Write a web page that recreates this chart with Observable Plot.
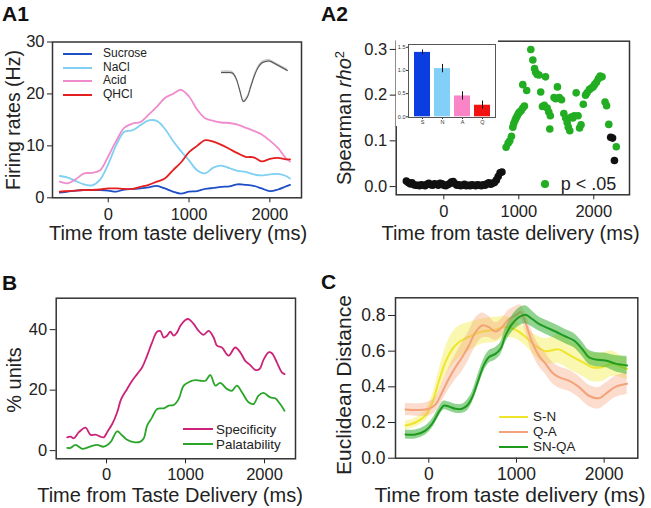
<!DOCTYPE html>
<html><head><meta charset="utf-8">
<script src="https://cdn.jsdelivr.net/npm/d3@7"></script>
<script src="https://cdn.jsdelivr.net/npm/@observablehq/plot@0.6"></script>
<style>
body{margin:0;background:#fff;}
#fig{position:relative;width:651px;height:508px;overflow:hidden;font-family:"Liberation Sans",Arial,sans-serif;color:#222;background:#fff}
#fig svg{display:block;overflow:visible}
.t{position:absolute;white-space:nowrap}
.leg{position:absolute;color:#222;white-space:nowrap}
.row{display:flex;align-items:center}
.sw{display:inline-block;height:0;border-top-style:solid}
</style></head><body><div id="fig"></div>
<script>
// ---------- Panel A1: firing rates ----------
const a1Time = [-600,-500,-400,-300,-200,-100,0,100,200,300,400,500,600,700,800,900,1000,1100,1200,1300,1400,1500,1600,1700,1800,1900,2000,2100,2200,2250];
const sucrose = [1.0,1.2,1.4,1.5,1.5,1.5,1.4,1.2,1.6,1.7,1.8,2.0,2.3,1.8,1.2,0.8,1.2,1.3,1.7,1.9,2.1,2.2,2.6,2.5,2.3,1.8,1.3,1.6,2.2,2.5];
const nacl = [4.2,3.9,3.2,2.6,2.4,3.5,6.5,10.2,12.7,13.0,14.0,14.9,14.8,13.3,11.0,9.0,7.2,5.3,4.7,5.8,6.2,5.7,5.2,5.0,4.5,4.3,4.5,4.6,4.2,3.7];
const acid = [3.1,2.8,3.6,4.7,4.8,5.3,8.0,11.0,13.5,14.3,14.6,16.0,17.5,19.2,20.0,20.8,19.5,17.0,15.3,14.8,14.5,14.4,14.1,13.5,12.9,12.2,11.0,9.6,7.6,7.0];
const qhcl = [1.2,1.3,1.4,1.5,1.5,1.6,1.8,1.8,1.7,1.7,2.1,2.5,3.1,3.7,5.3,6.8,8.8,10.0,11.1,10.8,10.2,9.4,8.6,7.9,7.8,7.0,7.5,7.7,7.4,7.4];
const tastes = ["Sucrose","NaCl","Acid","QHCl"];
const tasteColors = ["#1f4fc6","#7fd0f2","#f08ccc","#e41f1f"];
// spike waveform inset (samples, amplitude)
const waveSample = [0,1,2,3,4,5,6,7,8,9,10,11,12,13,14,15,16,17,18];
const waveAmp = [0,0,0,-0.5,-6,-18,-29,-25,-14,-3,5,9.5,11,11.5,10,8,6,4,2];
const waveSd = 1.6;

// ---------- Panel A2: Spearman rho^2 ----------
const nsTime = [-500,-475,-450,-425,-400,-375,-350,-325,-300,-275,-250,-225,-200,-175,-150,-125,-100,-75,-50,-25,0,25,50,75,100,125,150,175,200,225,250,275,300,325,350,375,400,425,450,475,500,525,550,575,600,625,650,675,700,725,750,775,2225,2250,2275];
const nsRho = [0.012,0.009,0.006,0.008,0.004,0.003,0.003,0.002,0.004,0.003,0.002,0.005,0.007,0.004,0.003,0.006,0.005,0.003,0.007,0.006,0.003,0.002,0.004,0.006,0.010,0.011,0.006,0.003,0.004,0.002,0.003,0.005,0.002,0.003,0.002,0.004,0.003,0.002,0.004,0.003,0.002,0.004,0.003,0.006,0.008,0.005,0.007,0.009,0.014,0.022,0.030,0.032,0.108,0.106,0.057];
const sigTime = [831,858,880,902,920,933,950,964,980,995,1010,1030,1053,1075,1053,1105,1160,1187,1210,1225,1245,1270,1292,1315,1340,1356,1378,1400,1420,1413,1470,1490,1515,1540,1570,1600,1625,1645,1660,1680,1700,1720,1740,1765,1790,1810,1830,1860,1890,1910,1940,1965,1990,2010,2035,2060,2085,2110,2150,2170,2200,2300];
const sigRho = [0.086,0.095,0.100,0.110,0.130,0.138,0.145,0.150,0.155,0.160,0.163,0.166,0.172,0.176,0.223,0.210,0.300,0.277,0.258,0.250,0.245,0.244,0.207,0.175,0.178,0.240,0.172,0.163,0.155,0.126,0.195,0.192,0.218,0.195,0.190,0.160,0.150,0.140,0.130,0.122,0.152,0.150,0.155,0.205,0.155,0.128,0.135,0.180,0.200,0.205,0.212,0.215,0.218,0.223,0.228,0.236,0.242,0.240,0.185,0.177,0.136,0.087];
// inset bar chart
const insetCats = ["S","N","A","Q"];
const insetVals = [1.39,1.04,0.45,0.25];
const insetErr = [0.05,0.09,0.09,0.09];
const insetColors = ["#0b3ee0","#82cff8","#f985c6","#f31212"];

// ---------- Panel B: % units ----------
const specTime = [-497,-455,-413,-350,-265,-202,-139,-76,-34,8,72,135,185,261,324,387,450,514,577,640,682,724,766,808,851,893,935,998,1040,1103,1166,1229,1293,1356,1398,1461,1545,1629,1693,1756,1819,1882,1937,1987,2051,2093,2156,2219,2253];
const specVal = [4.4,4.6,4.1,6.1,7.6,5.2,5.3,4.6,4.4,6.1,8.8,12.7,17.0,20.4,23.1,25.3,27.5,31.4,35.8,39.3,39.5,37.4,38.0,39.3,38.0,39.1,41.3,43.2,43.5,41.9,39.6,38.3,39.6,37.4,34.7,34.1,31.4,34.1,32.5,29.7,28.3,26.7,27.0,30.0,32.5,32.2,29.2,25.9,25.3];
const palTime = [-497,-455,-392,-307,-223,-118,-34,51,135,198,261,345,429,472,514,577,640,724,787,851,914,977,1061,1124,1187,1251,1314,1377,1440,1524,1587,1651,1714,1798,1861,1924,1987,2072,2135,2198,2253];
const palVal = [0.9,0.9,1.9,0.6,1.2,1.9,1.3,2.8,6.4,5.0,3.6,2.8,3.0,4.1,8.3,11.0,13.8,14.0,14.9,15.1,17.1,21.5,22.9,23.3,23.1,23.1,25.0,21.5,22.4,20.4,19.8,21.5,19.3,16.0,15.4,18.2,19.1,17.6,17.3,15.4,13.2];

// ---------- Panel C: Euclidean distance ----------
const snTime = [-266,-152,-38,38,114,190,266,342,456,608,760,875,989,1103,1217,1331,1483,1597,1749,1863,1977,2091,2205,2262];
const snMean = [.183,.20,.24,.31,.43,.54,.61,.65,.68,.71,.72,.735,.72,.68,.63,.60,.61,.58,.54,.51,.51,.53,.51,.50];
const snSem = [.025,.025,.03,.04,.06,.08,.09,.09,.08,.07,.07,.06,.05,.05,.06,.07,.08,.08,.08,.08,.08,.07,.06,.06];
const qaTime = [-266,-114,0,76,152,228,304,380,456,532,608,684,760,837,913,989,1046,1103,1179,1255,1331,1407,1483,1597,1711,1825,1939,2015,2129,2262];
const qaMean = [.273,.27,.277,.30,.37,.445,.51,.566,.63,.706,.744,.735,.71,.735,.78,.80,.82,.76,.65,.575,.53,.48,.454,.435,.40,.35,.336,.36,.40,.417];
const qaSem = [.035,.035,.04,.04,.05,.06,.07,.08,.08,.08,.07,.06,.05,.05,.05,.05,.04,.05,.06,.06,.06,.06,.06,.06,.06,.06,.06,.06,.06,.06];
const snqaTime = [-266,-152,-38,38,114,171,228,304,380,437,494,570,627,684,760,818,875,951,1027,1103,1179,1255,1331,1445,1559,1654,1749,1825,1901,2015,2129,2262];
const snqaMean = [.133,.133,.155,.193,.258,.295,.29,.277,.277,.295,.34,.445,.52,.566,.585,.613,.688,.753,.79,.804,.78,.753,.735,.71,.682,.66,.613,.566,.553,.548,.53,.52];
const snqaSem = [.025,.025,.025,.025,.025,.025,.025,.025,.025,.03,.03,.035,.035,.035,.035,.035,.04,.045,.05,.05,.045,.04,.04,.04,.04,.04,.04,.04,.04,.04,.045,.05];
const pairNames = ["S-N","Q-A","SN-QA"];
const pairLine = ["#efe62c","#f3a27a","#1f9a1f"];
const pairFill = ["#f6ef62","#f4a783","#36b036"];
const pairOpacity = [0.5,0.4,0.55];

// ================= drawing =================
const fig = document.getElementById("fig");
const FONT = "Liberation Sans, Arial, sans-serif";
function put(el, left, top){ el.style.position="absolute"; el.style.left=left+"px"; el.style.top=top+"px"; fig.appendChild(el); return el; }
function xTitle(html, cx, baseline, size){
  const d=document.createElement("div"); d.className="t"; d.innerHTML=html;
  d.style.fontSize=size+"px"; d.style.lineHeight=size+"px"; d.style.transform="translateX(-50%)";
  put(d, cx, baseline-0.8465*size);
}
function yTitle(html, capX, cy, size){
  const d=document.createElement("div"); d.className="t"; d.innerHTML=html;
  d.style.fontSize=size+"px"; d.style.lineHeight=size+"px";
  d.style.transformOrigin="0 0"; d.style.transform="rotate(-90deg) translateX(-50%)";
  put(d, capX-0.1305*size, cy);
}
function panelLabel(txt, left, baseline){
  const d=document.createElement("div"); d.className="t"; d.textContent=txt;
  d.style.fontSize="21px"; d.style.lineHeight="21px"; d.style.fontWeight="bold"; d.style.color="#111";
  put(d, left, baseline-0.8465*21);
}
function lineLegend(names, colors, left, firstCenter, spacing, swW, gap, size, sw){
  const box=document.createElement("div"); box.className="leg"; box.style.fontSize=size+"px";
  names.forEach((n,i)=>{
    const r=document.createElement("div"); r.className="row"; r.style.height=spacing+"px";
    const s=document.createElement("span"); s.className="sw"; s.style.width=swW+"px";
    s.style.borderTopWidth=sw+"px"; s.style.borderTopColor=colors[i]; s.style.marginRight=gap+"px";
    const t=document.createElement("span"); t.textContent=n;
    t.style.lineHeight=spacing+"px"; t.style.display="inline-block"; t.style.height=spacing+"px";
    r.appendChild(s); r.appendChild(t); box.appendChild(r);
  });
  put(box, left, firstCenter-spacing/2);
}
const frame = () => Plot.frame({stroke:"#333", strokeWidth:1.5});

// ---- A1 ----
const a1Rows = [];
[sucrose,nacl,acid,qhcl].forEach((arr,k)=>arr.forEach((v,i)=>a1Rows.push({t:a1Time[i], v, taste:tastes[k]})));
const a1 = Plot.plot({
  width:325, height:250, marginLeft:52, marginRight:24, marginTop:41.5, marginBottom:52.7,
  style:{fontFamily:FONT, fontSize:"16.5px", color:"#222", background:"transparent"},
  x:{domain:[-690,2392], ticks:[0,1000,2000], tickFormat:"d", tickSize:5, tickPadding:5, label:null},
  y:{domain:[0,30], ticks:[0,10,20,30], tickSize:5, tickPadding:3, label:null},
  color:{domain:tastes, range:tasteColors},
  marks:[
    Plot.lineY(a1Rows,{x:"t", y:"v", stroke:"taste", z:"taste", strokeWidth:1.8, curve:"catmull-rom"}),
    frame()
  ]
});
put(a1,0,0);
const waveRows = waveSample.map((s,i)=>({s, a:waveAmp[i], lo:waveAmp[i]-waveSd, hi:waveAmp[i]+waveSd}));
const wave = Plot.plot({
  width:72, height:52, margin:3,
  style:{background:"transparent"},
  x:{domain:[0,18], axis:null}, y:{domain:[-31,15], axis:null},
  marks:[
    Plot.areaY(waveRows,{x:"s", y1:"lo", y2:"hi", fill:"#c8c8c8", curve:"catmull-rom"}),
    Plot.lineY(waveRows,{x:"s", y:"a", stroke:"#555", strokeWidth:1.1, curve:"catmull-rom"})
  ]
});
put(wave,218,54);
lineLegend(tastes, tasteColors, 63, 54, 13.5, 29, 11, 12, 2);

// ---- A2 ----
const a2 = Plot.plot({
  width:326, height:250, marginLeft:70.7, marginRight:22, marginTop:40.7, marginBottom:55.7,
  style:{fontFamily:FONT, fontSize:"16.5px", color:"#222", background:"transparent"},
  x:{domain:[-635,2476], ticks:[0,1000,2000], tickFormat:"d", tickSize:5, tickPadding:5, label:null},
  y:{domain:[-0.018,0.318], ticks:[0,0.1,0.2,0.3], tickFormat:".1f", tickSize:6, tickPadding:3, label:null},
  marks:[
    Plot.dot(nsTime.map((t,i)=>({t, r:nsRho[i]})),{x:"t", y:"r", r:3.8, fill:"#111"}),
    Plot.dot(sigTime.map((t,i)=>({t, r:sigRho[i]})),{x:"t", y:"r", r:3.8, fill:"#22ad22"}),
    frame()
  ]
});
put(a2,325,0);
const inset = Plot.plot({
  width:102, height:86, marginLeft:12, marginRight:3, marginTop:4, marginBottom:9,
  style:{fontFamily:FONT, fontSize:"5.5px", color:"#333", background:"#fff"},
  x:{domain:insetCats, padding:0.2, tickSize:2, tickPadding:1, label:null},
  y:{domain:[-0.015,1.56], ticks:[0,0.5,1,1.5], tickFormat:".1f", tickSize:2, tickPadding:1, label:null},
  color:{domain:insetCats, range:insetColors},
  marks:[
    Plot.barY(insetCats.map((c,i)=>({c, v:insetVals[i]})),{x:"c", y:"v", fill:"c"}),
    Plot.ruleX(insetCats.map((c,i)=>({c, lo:insetVals[i]-insetErr[i], hi:insetVals[i]+insetErr[i]})),{x:"c", y1:"lo", y2:"hi", stroke:"#111", strokeWidth:1}),
    Plot.frame({stroke:"#555", strokeWidth:1})
  ]
});
put(inset,396,40);
{
  const box=document.createElement("div"); box.className="leg"; box.style.fontSize="18px";
  const r=document.createElement("div"); r.className="row"; r.style.height="20px";
  const dot=document.createElement("span"); dot.style.cssText="display:inline-block;width:7.6px;height:7.6px;border-radius:50%;background:#22ad22;margin-right:12px";
  const t=document.createElement("span"); t.textContent="p < .05"; t.style.lineHeight="20px";
  r.appendChild(dot); r.appendChild(t); box.appendChild(r);
  put(box,541.2,174);
}

// ---- B ----
const bRows = specTime.map((t,i)=>({t, v:specVal[i], k:"Specificity"}))
  .concat(palTime.map((t,i)=>({t, v:palVal[i], k:"Palatability"})));
const b = Plot.plot({
  width:325, height:253, marginLeft:55.7, marginRight:30, marginTop:42.7, marginBottom:49.7,
  style:{fontFamily:FONT, fontSize:"16.5px", color:"#222", background:"transparent"},
  x:{domain:[-637,2392], ticks:[0,1000,2000], tickFormat:"d", tickSize:5, tickPadding:4, label:null},
  y:{domain:[-2.7,50.4], ticks:[0,20,40], tickSize:6, tickPadding:3, label:null},
  color:{domain:["Specificity","Palatability"], range:["#cc2277","#2aa52a"]},
  marks:[
    Plot.lineY(bRows,{x:"t", y:"v", stroke:"k", z:"k", strokeWidth:1.8, curve:"catmull-rom"}),
    frame()
  ]
});
put(b,0,255);
lineLegend(["Specificity","Palatability"], ["#cc2277","#2aa52a"], 183, 429, 15, 30, 3, 13.4, 2);

// ---- C ----
const cSets = [[snTime,snMean,snSem],[qaTime,qaMean,qaSem],[snqaTime,snqaMean,snqaSem]];
const cMarks = [];
cSets.forEach(([T,M,S],k)=>{
  const rows = T.map((t,i)=>({t, m:M[i], lo:M[i]-S[i], hi:M[i]+S[i]}));
  cMarks.push(Plot.areaY(rows,{x:"t", y1:"lo", y2:"hi", fill:pairFill[k], fillOpacity:pairOpacity[k], curve:"catmull-rom"}));
  cMarks.push(Plot.lineY(rows,{x:"t", y:"m", stroke:pairLine[k], strokeWidth:2, curve:"catmull-rom"}));
});
const c = Plot.plot({
  width:326, height:253, marginLeft:70, marginRight:13.7, marginTop:42.3, marginBottom:50.3,
  style:{fontFamily:FONT, fontSize:"17.5px", color:"#222", background:"transparent"},
  x:{domain:[-380,2384], ticks:[0,1000,2000], tickFormat:"d", tickSize:5, tickPadding:4, label:null},
  y:{domain:[0,0.899], ticks:[0,0.2,0.4,0.6,0.8], tickFormat:".1f", tickSize:7, tickPadding:3, label:null},
  marks:[...cMarks, frame()]
});
put(c,325,255);
lineLegend(pairNames, pairLine, 499, 416.7, 15, 29, 5, 13.4, 2);

// ---- titles ----
panelLabel("A1",2,21);
panelLabel("A2",321,21);
panelLabel("B",2,290);
panelLabel("C",321,289);
xTitle("Time from taste delivery (ms)",178,239.5,20);
xTitle("Time from taste delivery (ms)",510.5,239.5,20);
xTitle("Time from Taste Delivery (ms)",170,502,20);
xTitle("Time from taste delivery (ms)",510,502,21);
yTitle("Firing rates (Hz)",7,120,19.5);
yTitle("Spearman <i>rho</i><sup style=\"font-size:0.65em;line-height:0;vertical-align:0.55em\">2</sup>",337,118,20);
yTitle("% units",6.7,380,20);
yTitle("Euclidean Distance",335.5,385,21);
</script></body></html>
